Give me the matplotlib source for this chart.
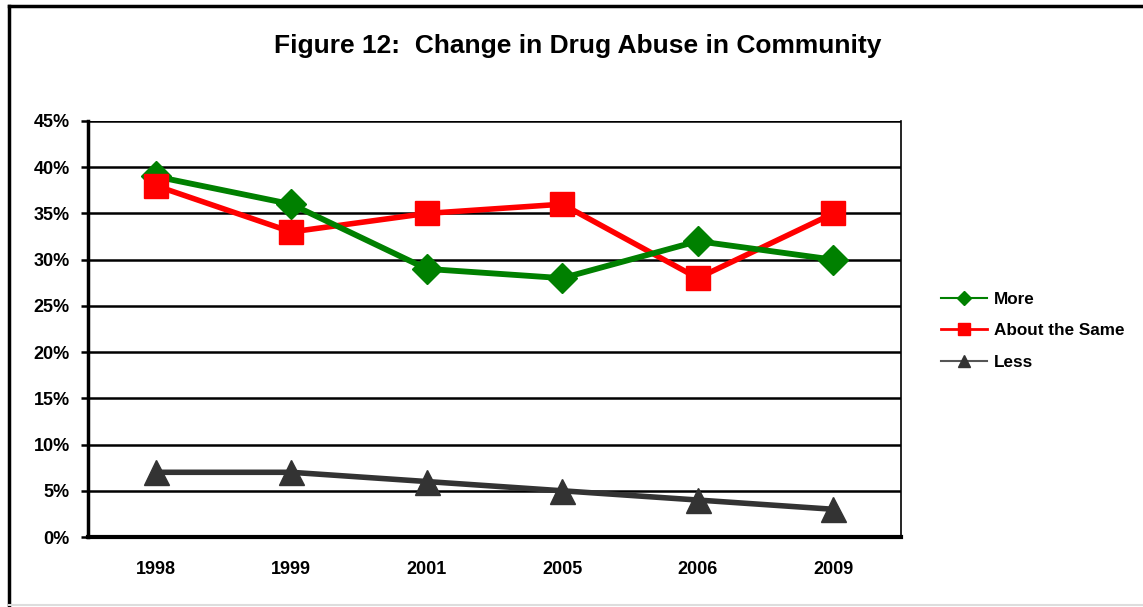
import matplotlib.pyplot as plt
from matplotlib.lines import Line2D
from matplotlib.ticker import PercentFormatter

plt.rcParams['font.family'] = ['Liberation Sans', 'DejaVu Sans']
plt.rcParams['font.weight'] = 'bold'

years = ['1998', '1999', '2001', '2005', '2006', '2009']
more = [39, 36, 29, 28, 32, 30]
about_same = [38, 33, 35, 36, 28, 35]
less = [7, 7, 6, 5, 4, 3]

green = '#008000'
red = '#ff0000'
dark = '#333333'

fig = plt.figure(figsize=(11.43, 6.07), dpi=100)
ax = fig.add_axes([0.077, 0.1153, 0.7113, 0.6854])

x = range(len(years))

# lines first, markers on top of them
ax.plot(x, less, color=dark, lw=4, zorder=3)
ax.plot(x, about_same, color=red, lw=4, zorder=3)
ax.plot(x, more, color=green, lw=4.2, zorder=3.1)
ax.plot(x, less, ls='none', marker='^', ms=18, color=dark, zorder=4)
ax.plot(x, more, ls='none', marker='D', ms=15.5, color=green, zorder=4)
ax.plot(x, about_same, ls='none', marker='s', ms=17.5, color=red, zorder=4.1)

ax.set_xlim(-0.5, 5.5)
ax.set_ylim(0, 45)
ax.set_yticks(range(0, 46, 5))
ax.yaxis.set_major_formatter(PercentFormatter(decimals=0))
ax.set_xticks(list(x))
ax.set_xticklabels(years)
ax.grid(axis='y', color='black', lw=1.8, zorder=1)
ax.set_axisbelow(True)

ax.tick_params(axis='y', length=5, width=1.8, pad=8, labelsize=13)
ax.tick_params(axis='x', length=0, pad=17, labelsize=13)

ax.spines['top'].set_visible(False)
ax.spines['left'].set_linewidth(2.5)
ax.spines['bottom'].set_linewidth(3)
ax.spines['right'].set_linewidth(1.2)

fig.text(0.505, 0.924, 'Figure 12:  Change in Drug Abuse in Community',
         ha='center', va='center', fontsize=19, fontweight='bold')

handles = [
    Line2D([], [], color=green, lw=1.5, marker='D', ms=7),
    Line2D([], [], color=red, lw=2, marker='s', ms=8),
    Line2D([], [], color='#555555', lw=1.5, marker='^', ms=9, mfc=dark, mec=dark),
]
fig.legend(handles, ['More', 'About the Same', 'Less'],
           loc='center left', bbox_to_anchor=(0.81, 0.455),
           frameon=False, fontsize=12.3, handlelength=2.7,
           handletextpad=0.4, labelspacing=0.95)

# outer chart frame
fig.add_artist(Line2D([0.008, 0.008], [0.0, 0.99], color='black', lw=2.5,
                      transform=fig.transFigure))
fig.add_artist(Line2D([0.008, 1.0], [0.99, 0.99], color='black', lw=2.5,
                      transform=fig.transFigure))
fig.add_artist(Line2D([0.008, 1.0], [0.004, 0.004], color='#dddddd', lw=1.5,
                      transform=fig.transFigure))

fig.savefig('out.png', dpi=100)
